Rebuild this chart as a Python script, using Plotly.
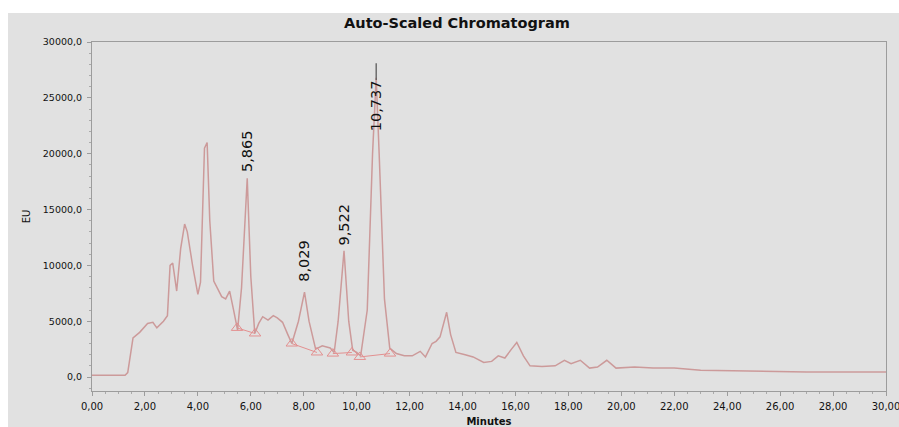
import plotly.graph_objects as go

# ---- data ----
time_min = [0.0, 1.25, 1.35, 1.55, 1.8, 2.1, 2.3, 2.45, 2.7, 2.85, 2.95, 3.05, 3.2, 3.35, 3.5, 3.6,
            3.8, 4.0, 4.1, 4.25, 4.35, 4.45, 4.6, 4.9, 5.05, 5.2, 5.35, 5.5, 5.65, 5.865, 6.0,
            6.15, 6.3, 6.45, 6.65, 6.85, 7.0, 7.2, 7.4, 7.55, 7.8, 8.029, 8.2, 8.45, 8.7, 9.0,
            9.15, 9.3, 9.522, 9.7, 9.85, 10.0, 10.15, 10.4, 10.6, 10.737, 10.85, 11.05, 11.25,
            11.5, 11.8, 12.1, 12.4, 12.6, 12.85, 13.0, 13.15, 13.4, 13.55, 13.75, 14.1, 14.4,
            14.8, 15.1, 15.35, 15.6, 15.85, 16.05, 16.3, 16.55, 17.0, 17.5, 17.85, 18.1, 18.45,
            18.8, 19.1, 19.45, 19.8, 20.5, 21.2, 22.0, 23.0, 25.0, 27.0, 30.0]
signal_eu = [150, 150, 400, 3500, 4000, 4800, 4900, 4400, 5000, 5500, 10000, 10200, 7700, 11500,
             13700, 13000, 10000, 7400, 8500, 20500, 21000, 14000, 8600, 7200, 7000, 7700, 6000,
             4200, 8000, 17800, 9000, 3900, 4800, 5400, 5100, 5500, 5300, 4900, 3800, 3000, 5000,
             7600, 5000, 2500, 2800, 2600, 2200, 5000, 11300, 5000, 2400, 2200, 1900, 6000, 20000,
             26800, 20000, 7000, 2600, 2100, 1900, 1900, 2300, 1800, 3000, 3200, 3600, 5800, 3800,
             2200, 2000, 1800, 1300, 1400, 1900, 1700, 2500, 3100, 1900, 1000, 950, 1000, 1500,
             1200, 1500, 800, 900, 1500, 800, 900, 800, 800, 600, 500, 450, 450]

peak_labels = ["5,865", "8,029", "9,522", "10,737"]
peak_rt = [5.865, 8.029, 9.522, 10.737]
label_base_eu = [18200, 8300, 11600, 21800]

peak_start_t = [5.48, 7.55, 9.10, 10.12]
peak_start_eu = [4400, 3000, 2100, 1800]
peak_end_t = [6.16, 8.50, 9.82, 11.26]
peak_end_eu = [3900, 2200, 2200, 2100]

apex_t = [10.737]
apex_low_eu = [26600]
apex_high_eu = [28100]

x_tickvals = [0, 2, 4, 6, 8, 10, 12, 14, 16, 18, 20, 22, 24, 26, 28, 30]
x_ticktext = ["0,00", "2,00", "4,00", "6,00", "8,00", "10,00", "12,00", "14,00", "16,00",
              "18,00", "20,00", "22,00", "24,00", "26,00", "28,00", "30,00"]
y_tickvals = [0, 5000, 10000, 15000, 20000, 25000, 30000]
y_ticktext = ["0,0", "5000,0", "10000,0", "15000,0", "20000,0", "25000,0", "30000,0"]

# ---- style ----
BG = "#e1e1e1"
CURVE = "#cc9a9a"
PINK = "#e39090"
TXT = "#111111"
FONT = "DejaVu Sans"

fig = go.Figure()

fig.add_trace(go.Scatter(x=time_min, y=signal_eu, mode="lines",
                         line=dict(color=CURVE, width=1.5), hoverinfo="skip", showlegend=False))

# baselines between peak start and end
for ts, ys, te, ye in zip(peak_start_t, peak_start_eu, peak_end_t, peak_end_eu):
    fig.add_trace(go.Scatter(x=[ts, te], y=[ys, ye], mode="lines",
                             line=dict(color=PINK, width=1), showlegend=False, hoverinfo="skip"))

# start / end triangles
fig.add_trace(go.Scatter(x=peak_start_t + peak_end_t, y=peak_start_eu + peak_end_eu, mode="markers",
                         marker=dict(symbol="triangle-up-open", size=10, color=PINK,
                                     line=dict(color=PINK, width=1)),
                         showlegend=False, hoverinfo="skip"))

# apex tick
for t, lo, hi in zip(apex_t, apex_low_eu, apex_high_eu):
    fig.add_trace(go.Scatter(x=[t, t], y=[lo, hi], mode="lines",
                             line=dict(color="#505050", width=1.2), showlegend=False, hoverinfo="skip"))

for lab, t, yb in zip(peak_labels, peak_rt, label_base_eu):
    fig.add_annotation(x=t, y=yb, text=lab, textangle=-90, showarrow=False,
                       xanchor="center", yanchor="bottom",
                       font=dict(family=FONT, size=14.5, color=TXT))

# gray photo area (white strip on top / left)
fig.add_shape(type="rect", xref="paper", yref="paper",
              x0=(8 - 92) / 794, x1=(899 - 92) / 794, y0=(391 - 427) / 349, y1=(391 - 13) / 349,
              fillcolor=BG, line=dict(width=0), layer="below")

fig.update_layout(
    width=899, height=427,
    margin=dict(l=92, r=13, t=42, b=36, autoexpand=False),
    paper_bgcolor="white", plot_bgcolor=BG,
    title=dict(text="<b>Auto-Scaled Chromatogram</b>", x=457 / 899, xref="container", xanchor="center",
               y=1 - 23 / 427, yref="container", yanchor="middle",
               font=dict(family=FONT, size=14.5, color=TXT)),
    font=dict(family=FONT, color=TXT),
)

fig.update_xaxes(range=[0, 30], tickvals=x_tickvals, ticktext=x_ticktext, automargin=False,
                 showgrid=False, zeroline=False, showline=True, linecolor="#9c9c9c", linewidth=1,
                 mirror=True, ticks="outside", ticklen=4, tickcolor="#9c9c9c",
                 minor=dict(ticks="outside", ticklen=2, dtick=0.5, tickcolor="#aaaaaa"),
                 ticklabeloverflow="allow", ticklabelstandoff=2,
                 tickfont=dict(family=FONT, size=10, color=TXT),
                 title=dict(text="<b>Minutes</b>", standoff=11, font=dict(family=FONT, size=10, color=TXT)))
fig.update_yaxes(range=[-1250, 30000], tickvals=y_tickvals, ticktext=y_ticktext, automargin=False,
                 showgrid=False, zeroline=False, showline=True, linecolor="#9c9c9c", linewidth=1,
                 mirror=True, ticks="outside", ticklen=4, tickcolor="#9c9c9c",
                 minor=dict(ticks="outside", ticklen=2, dtick=1000, tickcolor="#aaaaaa"),
                 ticklabelstandoff=3,
                 tickfont=dict(family=FONT, size=9.5, color=TXT),
                 title=dict(text="EU", standoff=10, font=dict(family=FONT, size=10, color=TXT)))

fig.write_html("out.html")
